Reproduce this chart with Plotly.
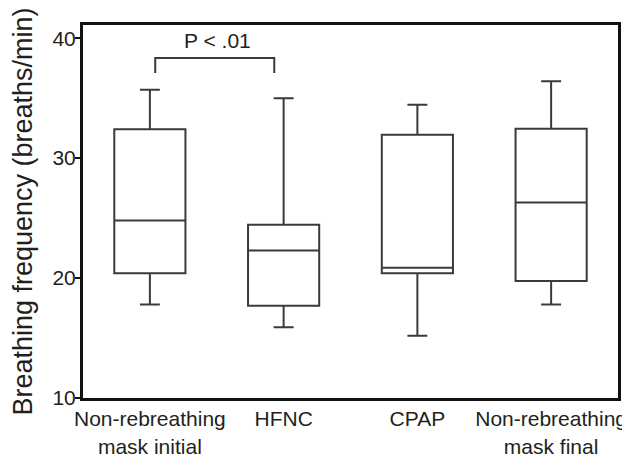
import plotly.graph_objects as go

categories = ["Non-rebreathing<br>mask initial", "HFNC", "CPAP", "Non-rebreathing<br>mask final"]
positions = [0, 1, 2, 3]
lower_whisker = [17.8, 15.9, 15.2, 17.8]
q1 = [20.4, 17.7, 20.4, 19.75]
median = [24.8, 22.3, 20.85, 26.3]
q3 = [32.4, 24.45, 31.95, 32.45]
upper_whisker = [35.7, 35.0, 34.45, 36.4]

sig_pair = (0, 1)
sig_y = 38.35
sig_drop = 1.25
sig_label = "P < .01"

line_col = "#3a3a3a"
text_col = "#231f20"
font_fam = "Liberation Sans, Arial, sans-serif"

fig = go.Figure()
fig.add_trace(go.Box(
    x=positions, q1=q1, median=median, q3=q3,
    lowerfence=lower_whisker, upperfence=upper_whisker,
    fillcolor="rgba(0,0,0,0)", line=dict(color=line_col, width=2),
    whiskerwidth=0.28, boxpoints=False, showlegend=False, hoverinfo="skip",
))

bx0 = sig_pair[0] + 0.04
bx1 = sig_pair[1] - 0.07
fig.add_trace(go.Scatter(
    x=[bx0, bx0, bx1, bx1],
    y=[sig_y - sig_drop, sig_y, sig_y, sig_y - sig_drop],
    mode="lines", line=dict(color=line_col, width=2),
    showlegend=False, hoverinfo="skip",
))
fig.add_annotation(x=(bx0 + bx1) / 2 + 0.02, y=sig_y + 1.45, text=sig_label, showarrow=False,
                   font=dict(size=21, color=text_col, family=font_fam), yanchor="middle")

# page body has an 8px margin, so the figure is sized to fit the window
fig.update_layout(
    width=622, height=449,
    margin=dict(l=75, r=12, t=17, b=59),
    paper_bgcolor="white", plot_bgcolor="white",
    font=dict(family=font_fam, color=text_col),
    boxgap=0.24,
)
fig.update_xaxes(
    range=[-0.5, 3.5], tickvals=positions, ticktext=categories, automargin=False,
    ticklabeloverflow="allow",
    showgrid=False, zeroline=False, showline=True, linecolor="#111", linewidth=3,
    mirror=True, ticks="", tickfont=dict(size=21, color=text_col),
)
fig.update_yaxes(
    range=[10, 41.1], tickvals=[10, 20, 30, 40], automargin=False,
    ticklabeloverflow="allow",
    showgrid=False, zeroline=False, showline=True, linecolor="#111", linewidth=3,
    mirror=True, ticks="outside", ticklen=5, tickwidth=2, tickcolor="#111",
    tickfont=dict(size=21, color=text_col), ticklabelstandoff=-5,
    title=dict(text="Breathing frequency (breaths/min)", font=dict(size=27, color=text_col), standoff=14),
)

fig.write_html("out.html")
